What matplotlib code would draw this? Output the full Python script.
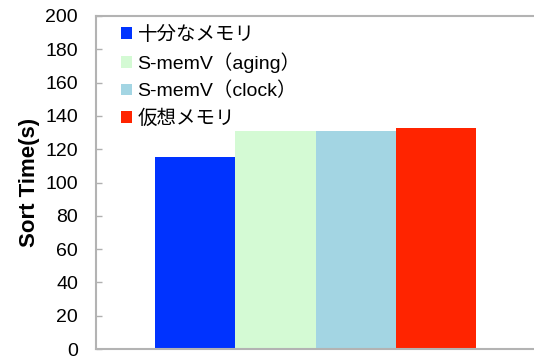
import matplotlib
matplotlib.use('Agg')
import matplotlib.pyplot as plt
from matplotlib.patches import Patch

plt.rcParams['font.family'] = ['Liberation Sans', 'Noto Sans CJK JP', 'DejaVu Sans']

# データ
labels = ["十分なメモリ", "S-memV（aging）", "S-memV（clock）", "仮想メモリ"]
sort_time = [115.2, 130.8, 130.8, 132.6]
colors = ["#0033FF", "#D4FAD4", "#A3D5E3", "#FF2400"]
yticks = [0, 20, 40, 60, 80, 100, 120, 140, 160, 180, 200]

fig = plt.figure(figsize=(5.34, 3.58), dpi=100)
ax = fig.add_axes([96 / 534, 9 / 358, 1 - 96 / 534, 333 / 358])

pos = list(range(len(sort_time)))
ax.bar(pos, sort_time, width=1.0, color=colors, linewidth=0)

ax.set_xlim(-1.233, 4.22)
ax.set_ylim(0, 200)
ax.set_yticks(yticks)
ax.set_xticks([])
ax.tick_params(axis='y', direction='in', length=4, width=1, color='#B0B0B0',
               labelsize=14, pad=13)

for side in ['left', 'bottom', 'top']:
    ax.spines[side].set_color('#B3B3B3')
    ax.spines[side].set_linewidth(1.5)
ax.spines['right'].set_visible(False)

ax.set_ylabel("Sort Time(s)", fontsize=16, fontweight='bold', labelpad=4)

handles = [Patch(facecolor=c, edgecolor='none') for c in colors]
ax.legend(handles, labels, loc='upper left', bbox_to_anchor=(0.035, 1.0),
          frameon=False, fontsize=14, handlelength=0.57, handleheight=0.57,
          handletextpad=0.28, labelspacing=0.45, borderaxespad=0.1)

fig.savefig("out.png", dpi=100)
